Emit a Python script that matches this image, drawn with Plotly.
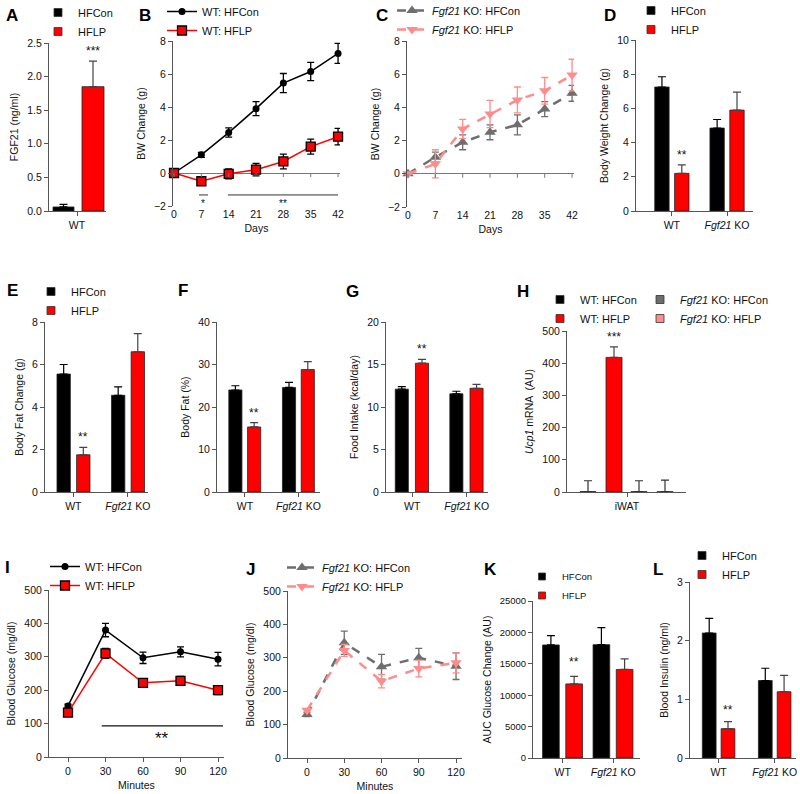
import plotly.graph_objects as go

W, H = 800, 794

# ---------------- data ----------------
A_groups = ["WT"]
A_hfcon, A_hfcon_err = [0.06], [0.04]
A_hflp, A_hflp_err = [1.85], [0.38]

days = [0, 7, 14, 21, 28, 35, 42]
B_hfcon = [0, 1.1, 2.45, 3.9, 5.45, 6.15, 7.25]
B_hfcon_err = [0.05, 0.15, 0.28, 0.42, 0.58, 0.55, 0.6]
B_hflp = [0, -0.5, -0.05, 0.2, 0.7, 1.6, 2.2]
B_hflp_err = [0.05, 0.1, 0.3, 0.38, 0.45, 0.45, 0.5]

C_hfcon = [0, 1.0, 1.9, 2.5, 2.95, 3.9, 4.85]
C_hfcon_err = [0.05, 0.3, 0.45, 0.45, 0.6, 0.45, 0.48]
C_hflp = [0, 0.6, 2.7, 3.6, 4.45, 5.0, 5.95]
C_hflp_err = [0.05, 0.85, 0.58, 0.82, 0.78, 0.8, 0.95]

groups = ["WT", "Fgf21 KO"]
group_labels = ["WT", "<i>Fgf21</i> KO"]
D_hfcon, D_hfcon_err = [7.25, 4.85], [0.6, 0.5]
D_hflp, D_hflp_err = [2.2, 5.9], [0.5, 1.05]
E_hfcon, E_hfcon_err = [5.55, 4.55], [0.45, 0.4]
E_hflp, E_hflp_err = [1.75, 6.6], [0.35, 0.85]
F_hfcon, F_hfcon_err = [24.0, 24.6], [1.0, 1.2]
F_hflp, F_hflp_err = [15.3, 28.8], [1.0, 1.9]
G_hfcon, G_hfcon_err = [12.1, 11.55], [0.3, 0.3]
G_hflp, G_hflp_err = [15.15, 12.2], [0.45, 0.45]

H_tissue = ["iWAT"]
H_names = ["WT: HFCon", "WT: HFLP", "<i>Fgf21</i> KO: HFCon", "<i>Fgf21</i> KO: HFLP"]
H_vals = [1, 418, 1, 1]
H_err = [34, 33, 34, 36]

minutes = [0, 30, 60, 90, 120]
I_hfcon = [153, 380, 297, 315, 293]
I_hfcon_err = [5, 20, 17, 15, 20]
I_hflp = [133, 310, 222, 228, 200]
I_hflp_err = [8, 15, 12, 13, 13]
J_hfcon = [130, 345, 273, 300, 275]
J_hfcon_err = [6, 35, 37, 28, 40]
J_hflp = [143, 322, 230, 268, 285]
J_hflp_err = [5, 18, 20, 25, 30]

K_hfcon, K_hfcon_err = [18000, 18050], [1500, 2700]
K_hflp, K_hflp_err = [11800, 14100], [1200, 1700]
L_hfcon, L_hfcon_err = [2.13, 1.32], [0.25, 0.21]
L_hflp, L_hflp_err = [0.5, 1.13], [0.12, 0.28]

# significance marks
B_sig_spans = [(6.4, 8.7), (13.8, 42)]
B_sig_y = -1.33
B_sig_text = [("*", 7.5), ("**", 28)]
I_sig_span = (27, 124)
I_sig_y = 93

# ---------------- styling ----------------
FONT = "Liberation Sans, Arial, sans-serif"
BLACK, RED, GREY, PINK = "#000000", "#FF0000", "#6E6E6E", "#FF8C8C"
AXC = "#555555"

fig = go.Figure()
layout = dict(width=W, height=H, margin=dict(l=0, r=0, t=0, b=0, autoexpand=False),
              paper_bgcolor="white", plot_bgcolor="white",
              font=dict(family=FONT, size=11, color="#111"),
              barmode="overlay", showlegend=True)
shapes, annotations = [], []


def px(x):
    return x / W


def py(y):
    return 1 - y / H


def xd(p0, p1):
    return [px(p0), px(p1)]


def yd(top, bottom):
    return [py(bottom), py(top)]


def base_axis(**kw):
    d = dict(showline=True, linecolor=AXC, linewidth=1, ticks="outside", ticklen=4,
             tickwidth=1, tickcolor=AXC, showgrid=False, zeroline=False,
             tickfont=dict(size=10.5, color="#111"), title_font=dict(size=10.5, color="#111"))
    d.update(kw)
    return d


def set_axes(n, xdom, ydom, xkw, ykw):
    sx = "" if n == 1 else str(n)
    layout["xaxis" + sx] = base_axis(domain=xdom, anchor="y" + sx, **xkw)
    layout["yaxis" + sx] = base_axis(domain=ydom, anchor="x" + sx, **ykw)


def legend_cfg(key, x, ytop, size=11):
    layout[key] = dict(x=px(x), y=py(ytop), xanchor="left", yanchor="top",
                       bgcolor="rgba(0,0,0,0)", font=dict(size=size, color="#111"),
                       itemsizing="trace", tracegroupgap=0)
    return key


def legend_square(n, name, color, leg, rank, size=8, outline="#333"):
    sx = "" if n == 1 else str(n)
    fig.add_trace(go.Scatter(x=[None], y=[None], mode="markers", name=name,
                             marker=dict(symbol="square", size=size, color=color,
                                         line=dict(color=outline, width=0.8)),
                             xaxis="x" + sx, yaxis="y" + sx, legend=leg, legendrank=rank,
                             hoverinfo="skip"))


def bar(n, cats, vals, errs, color, off, width, errcolor):
    sx = "" if n == 1 else str(n)
    fig.add_trace(go.Bar(x=cats, y=vals, offset=off, width=width,
                         marker=dict(color=color, line=dict(color="#222", width=0.8)),
                         error_y=dict(type="data", symmetric=False, array=errs,
                                      arrayminus=[0] * len(errs), color=errcolor,
                                      thickness=1.2, width=4),
                         xaxis="x" + sx, yaxis="y" + sx, showlegend=False))


def line(n, xs, ys, errs, name, color, symbol, msize, dash, lw, leg, mline=None, errcolor=None):
    sx = "" if n == 1 else str(n)
    fig.add_trace(go.Scatter(x=xs, y=ys, mode="lines+markers", name=name,
                             line=dict(color=color, width=lw, dash=dash),
                             marker=dict(symbol=symbol, size=msize, color=color,
                                         line=mline or dict(width=0)),
                             error_y=dict(type="data", array=errs, color=errcolor or color,
                                          thickness=1.3, width=3.5),
                             cliponaxis=False, xaxis="x" + sx, yaxis="y" + sx, legend=leg))


def stars(n, x, y, text, size=12, yshift=1):
    sx = "" if n == 1 else str(n)
    annotations.append(dict(x=x, y=y, xref="x" + sx, yref="y" + sx, text=text, showarrow=False,
                            yanchor="bottom", yshift=yshift, font=dict(size=size, color="#111")))


def letter(txt, x, y):
    annotations.append(dict(x=px(x), y=py(y), xref="paper", yref="paper", text="<b>" + txt + "</b>",
                            showarrow=False, xanchor="center", yanchor="middle",
                            font=dict(size=17, color="black")))


cat_x = dict(type="category", categoryorder="array", categoryarray=groups,
             tickvals=groups, ticktext=group_labels)

# ---------------- A ----------------
set_axes(1, xd(49, 106), yd(43, 211),
         dict(type="category", range=[-0.28, 0.29]),
         dict(range=[0, 2.5], tickvals=[0, 0.5, 1, 1.5, 2, 2.5], tickformat=".1f",
              title=dict(text="FGF21 (ng/ml)", standoff=6)))
bar(1, A_groups, A_hfcon, A_hfcon_err, BLACK, -0.24, 0.21, BLACK)
bar(1, A_groups, A_hflp, A_hflp_err, RED, 0.05, 0.22, "#444")
lg = legend_cfg("legend", 38, -2)
legend_square(1, "HFCon", BLACK, lg, 1)
legend_square(1, "HFLP", RED, lg, 2)
stars(1, 0.16, A_hflp[0] + A_hflp_err[0], "***")
letter("A", 12, 16)

# ---------------- B ----------------
set_axes(2, xd(173, 340), yd(41, 206),
         dict(range=[-0.26, 42.5], tickvals=days, showline=False, ticks="",
              title=dict(text="Days", standoff=6)),
         dict(range=[-2, 8], tickvals=[-2, 0, 2, 4, 6, 8], zeroline=True,
              zerolinecolor="#777", zerolinewidth=1,
              title=dict(text="BW Change (g)", standoff=6)))
lg = legend_cfg("legend2", 162, -3)
line(2, days, B_hfcon, B_hfcon_err, "WT: HFCon", BLACK, "circle", 7, "solid", 1.5, lg)
line(2, days, B_hflp, B_hflp_err, "WT: HFLP", RED, "square", 9, "solid", 1.5, lg,
     mline=dict(color="black", width=1.3), errcolor=BLACK)
for d in days:
    shapes.append(dict(type="line", xref="x2", yref="y2", x0=d, x1=d, ysizemode="pixel",
                       yanchor=0, y0=0, y1=-4, line=dict(color="#777", width=1)))
for a, b in B_sig_spans:
    shapes.append(dict(type="line", xref="x2", yref="y2", x0=a, x1=b, y0=B_sig_y, y1=B_sig_y,
                       line=dict(color="#333", width=1)))
for t, xv in B_sig_text:
    annotations.append(dict(x=xv, y=B_sig_y, xref="x2", yref="y2", text=t, showarrow=False,
                            yanchor="top", yshift=-1, font=dict(size=10, color="#111")))
letter("B", 145, 16)

# ---------------- C ----------------
set_axes(3, xd(407, 574), yd(41, 207),
         dict(range=[-0.26, 42.5], tickvals=days, showline=False, ticks="",
              title=dict(text="Days", standoff=6)),
         dict(range=[-2, 8], tickvals=[-2, 0, 2, 4, 6, 8], zeroline=True,
              zerolinecolor="#777", zerolinewidth=1,
              title=dict(text="BW Change (g)", standoff=6)))
lg = legend_cfg("legend3", 392, -4)
line(3, days, C_hfcon, C_hfcon_err, "<i>Fgf21</i> KO: HFCon", GREY, "triangle-up", 10, "dash", 2.5, lg)
line(3, days, C_hflp, C_hflp_err, "<i>Fgf21</i> KO: HFLP", PINK, "triangle-down", 10, "dash", 2.5, lg)
for d in days:
    shapes.append(dict(type="line", xref="x3", yref="y3", x0=d, x1=d, ysizemode="pixel",
                       yanchor=0, y0=0, y1=-4, line=dict(color="#777", width=1)))
letter("C", 382, 16)


# ---------------- bar panels D E F G K L ----------------
def two_group_panel(n, xpx, ypx, xrange, yrange, ytick, ytitle, hfcon, hfcon_err, hflp, hflp_err,
                    off=(-0.31, 0.05), width=0.26, yfmt=None):
    ykw = dict(range=yrange, tickvals=ytick, title=dict(text=ytitle, standoff=6))
    if yfmt:
        ykw["tickformat"] = yfmt
    set_axes(n, xd(*xpx), yd(*ypx), dict(range=xrange, **cat_x), ykw)
    bar(n, groups, hfcon, hfcon_err, BLACK, off[0], width, BLACK)
    bar(n, groups, hflp, hflp_err, RED, off[1], width, "#444")


two_group_panel(4, (636, 753), (40, 211), [-0.65, 1.47], [0, 10], [0, 2, 4, 6, 8, 10],
                "Body Weight Change (g)", D_hfcon, D_hfcon_err, D_hflp, D_hflp_err)
lg = legend_cfg("legend4", 631, -4)
legend_square(4, "HFCon", BLACK, lg, 1)
legend_square(4, "HFLP", RED, lg, 2)
stars(4, 0.18, D_hflp[0] + D_hflp_err[0], "**")
letter("D", 610, 16)

two_group_panel(5, (45, 148), (322, 492), [-0.52, 1.37], [0, 8], [0, 2, 4, 6, 8],
                "Body Fat Change (g)", E_hfcon, E_hfcon_err, E_hflp, E_hflp_err,
                off=(-0.30, 0.06), width=0.245)
lg = legend_cfg("legend5", 31, 277)
legend_square(5, "HFCon", BLACK, lg, 1)
legend_square(5, "HFLP", RED, lg, 2)
stars(5, 0.18, E_hflp[0] + E_hflp_err[0], "**")
letter("E", 12, 290)

two_group_panel(6, (217, 320), (322, 492), [-0.52, 1.40], [0, 40], [0, 10, 20, 30, 40],
                "Body Fat (%)", F_hfcon, F_hfcon_err, F_hflp, F_hflp_err,
                off=(-0.30, 0.05), width=0.245)
stars(6, 0.17, F_hflp[0] + F_hflp_err[0], "**")
letter("F", 183, 290)

two_group_panel(7, (386, 488), (322, 492), [-0.48, 1.39], [0, 20], [0, 5, 10, 15, 20],
                "Food Intake (kcal/day)", G_hfcon, G_hfcon_err, G_hflp, G_hflp_err,
                off=(-0.31, 0.06), width=0.24)
stars(7, 0.18, G_hflp[0] + G_hflp_err[0], "**")
letter("G", 352, 291)

# ---------------- H ----------------
set_axes(8, xd(567, 686), yd(331, 492),
         dict(type="category", range=[-0.6, 0.59]),
         dict(range=[0, 500], tickvals=[0, 100, 200, 300, 400, 500],
              title=dict(text="<i>Ucp1</i> mRNA  (AU)", standoff=6)))
H_colors = [BLACK, RED, GREY, PINK]
H_offsets = [-0.47, -0.21, 0.04, 0.30]
for i in range(4):
    bar(8, H_tissue, [H_vals[i]], [H_err[i]], H_colors[i], H_offsets[i], 0.16,
        "#333" if i != 1 else "#444")
lg_a = legend_cfg("legend8", 540, 285)
lg_b = legend_cfg("legend13", 640, 285)
for i in range(4):
    legend_square(8, H_names[i], H_colors[i], lg_a if i < 2 else lg_b, i + 1)
stars(8, -0.13, H_vals[1] + H_err[1], "***")
letter("H", 523, 291)

# ---------------- I ----------------
set_axes(9, xd(49, 224), yd(590, 757),
         dict(range=[-15.2, 124.8], tickvals=minutes, title=dict(text="Minutes", standoff=6)),
         dict(range=[0, 500], tickvals=[0, 100, 200, 300, 400, 500],
              title=dict(text="Blood Glucose (mg/dl)", standoff=6)))
lg = legend_cfg("legend9", 45, 552)
line(9, minutes, I_hfcon, I_hfcon_err, "WT: HFCon", BLACK, "circle", 7, "solid", 1.5, lg)
line(9, minutes, I_hflp, I_hflp_err, "WT: HFLP", RED, "square", 9, "solid", 1.5, lg,
     mline=dict(color="black", width=1.3), errcolor=BLACK)
shapes.append(dict(type="line", xref="x9", yref="y9", x0=I_sig_span[0], x1=I_sig_span[1],
                   y0=I_sig_y, y1=I_sig_y, line=dict(color="#111", width=1.3)))
annotations.append(dict(x=75, y=I_sig_y, xref="x9", yref="y9", text="**", showarrow=False,
                        yanchor="top", yshift=-1, font=dict(size=17, color="#111")))
letter("I", 7, 567)

# ---------------- J ----------------
set_axes(10, xd(288, 462), yd(591, 758),
         dict(range=[-15.3, 124.8], tickvals=minutes, title=dict(text="Minutes", standoff=6)),
         dict(range=[0, 500], tickvals=[0, 100, 200, 300, 400, 500],
              title=dict(text="Blood Glucose (mg/dl)", standoff=6)))
lg = legend_cfg("legend10", 282, 553)
line(10, minutes, J_hfcon, J_hfcon_err, "<i>Fgf21</i> KO: HFCon", GREY, "triangle-up", 10, "dash", 2.5, lg)
line(10, minutes, J_hflp, J_hflp_err, "<i>Fgf21</i> KO: HFLP", PINK, "triangle-down", 10, "dash", 2.5, lg)
letter("J", 250, 569)

# ---------------- K ----------------
two_group_panel(11, (533, 640), (601, 758), [-0.59, 1.53], [0, 25000],
                [0, 5000, 10000, 15000, 20000, 25000],
                "AUC Glucose Change (AU)", K_hfcon, K_hfcon_err, K_hflp, K_hflp_err,
                off=(-0.40, 0.06), width=0.33, yfmt="d")
layout["yaxis11"]["tickfont"] = dict(size=9.5, color="#111")
lg = legend_cfg("legend11", 522, 562, size=9.5)
legend_square(11, "HFCon", BLACK, lg, 1, size=7)
legend_square(11, "HFLP", RED, lg, 2, size=7)
stars(11, 0.225, K_hflp[0] + K_hflp_err[0], "**", yshift=5)
letter("K", 490, 569)

# ---------------- L ----------------
two_group_panel(12, (690, 796), (582, 758), [-0.51, 1.38], [0, 3], [0, 1, 2, 3],
                "Blood Insulin (ng/ml)", L_hfcon, L_hfcon_err, L_hflp, L_hflp_err,
                off=(-0.29, 0.045), width=0.245)
lg = legend_cfg("legend12", 682, 541)
legend_square(12, "HFCon", BLACK, lg, 1)
legend_square(12, "HFLP", RED, lg, 2)
stars(12, 0.17, L_hflp[0] + L_hflp_err[0], "**", yshift=3)
letter("L", 658, 569)

layout["shapes"] = shapes
layout["annotations"] = annotations
fig.update_layout(**layout)
fig.write_html("out.html", config={"displayModeBar": False},
               post_script="document.body.style.margin='0';")
